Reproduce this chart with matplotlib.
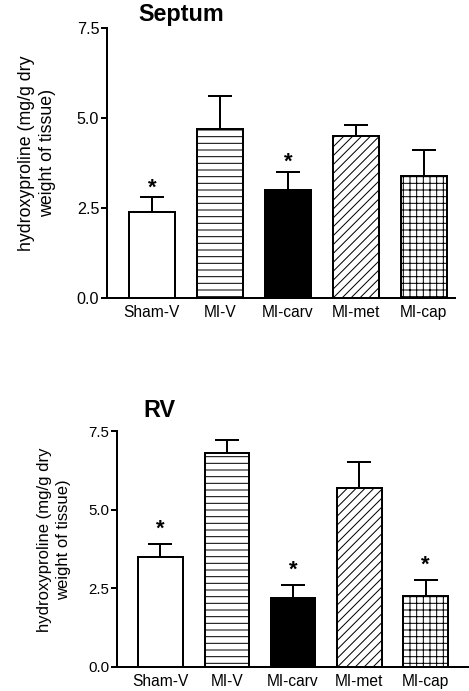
import matplotlib
matplotlib.use("Agg")
import matplotlib.pyplot as plt

plt.rcParams['font.family'] = ['Liberation Sans', 'DejaVu Sans']
plt.rcParams['hatch.linewidth'] = 0.9

categories = ["Sham-V", "MI-V", "MI-carv", "MI-met", "MI-cap"]
septum_vals = [2.4, 4.7, 3.0, 4.5, 3.4]
septum_err = [0.4, 0.9, 0.5, 0.3, 0.7]
septum_sig = [True, False, True, False, False]
rv_vals = [3.5, 6.8, 2.2, 5.7, 2.27]
rv_err = [0.4, 0.4, 0.4, 0.8, 0.5]
rv_sig = [True, False, True, False, True]
yticks = [0.0, 2.5, 5.0, 7.5]
ytick_labels = ["0.0", "2.5", "5.0", "7.5"]
ylabel = "hydroxyproline (mg/g dry\nweight of tissue)"

fills = ['white', 'white', 'black', 'white', 'white']
hatches = [None, '--', None, '///', '++']

W, H = 469, 691
DPI = 80
fig = plt.figure(figsize=(W / DPI, H / DPI), dpi=DPI)


def px_axes(l, r, t, b):
    return fig.add_axes([l / W, 1 - b / H, (r - l) / W, (b - t) / H])


def panel(ax, vals, errs, sig, xlim, tfs, xfs, star_off):
    x = list(range(len(categories)))
    for i in x:
        ax.bar(i, vals[i], width=0.67, color=fills[i], edgecolor='black',
               linewidth=1.8, hatch=hatches[i], zorder=2)
    ax.errorbar(x, vals, yerr=[[0] * len(errs), errs], fmt='none',
                ecolor='black', elinewidth=1.8, capsize=10.5, capthick=1.8,
                zorder=1)
    for i in x:
        if sig[i]:
            ax.annotate('*', (i, vals[i] + errs[i]), xytext=(0, star_off),
                        textcoords='offset points', ha='center', va='bottom',
                        fontsize=20, fontweight='bold')
    ax.set_xlim(*xlim)
    ax.set_ylim(0, 7.5)
    ax.set_yticks(yticks)
    ax.set_yticklabels(ytick_labels, fontsize=tfs)
    ax.set_xticks(x)
    ax.set_xticklabels(categories, fontsize=xfs)
    ax.tick_params(axis='x', length=0, pad=6)
    ax.tick_params(axis='y', length=5, width=1.8, pad=2)
    for s in ['top', 'right']:
        ax.spines[s].set_visible(False)
    for s in ['left', 'bottom']:
        ax.spines[s].set_linewidth(1.8)


ax1 = px_axes(107, 455, 28, 298)
panel(ax1, septum_vals, septum_err, septum_sig, (-0.66, 4.46), 14.5, 14, -1)
fig.text(37 / W, 1 - 153 / H, ylabel, rotation=90, ha='center', va='center',
         ma='center', fontsize=16, linespacing=1.3)
fig.text(181 / W, 1 - 15 / H, "Septum", ha='center', va='center',
         fontsize=21, fontweight='bold')

ax2 = px_axes(117, 468, 431, 667)
panel(ax2, rv_vals, rv_err, rv_sig, (-0.656, 4.64), 13.5, 14, 4)
fig.text(54 / W, 1 - 540 / H, ylabel, rotation=90, ha='center', va='center',
         ma='center', fontsize=15, linespacing=1.3)
fig.text(159 / W, 1 - 410.5 / H, "RV", ha='center', va='center',
         fontsize=21, fontweight='bold')

fig.savefig("out.png", dpi=DPI)
